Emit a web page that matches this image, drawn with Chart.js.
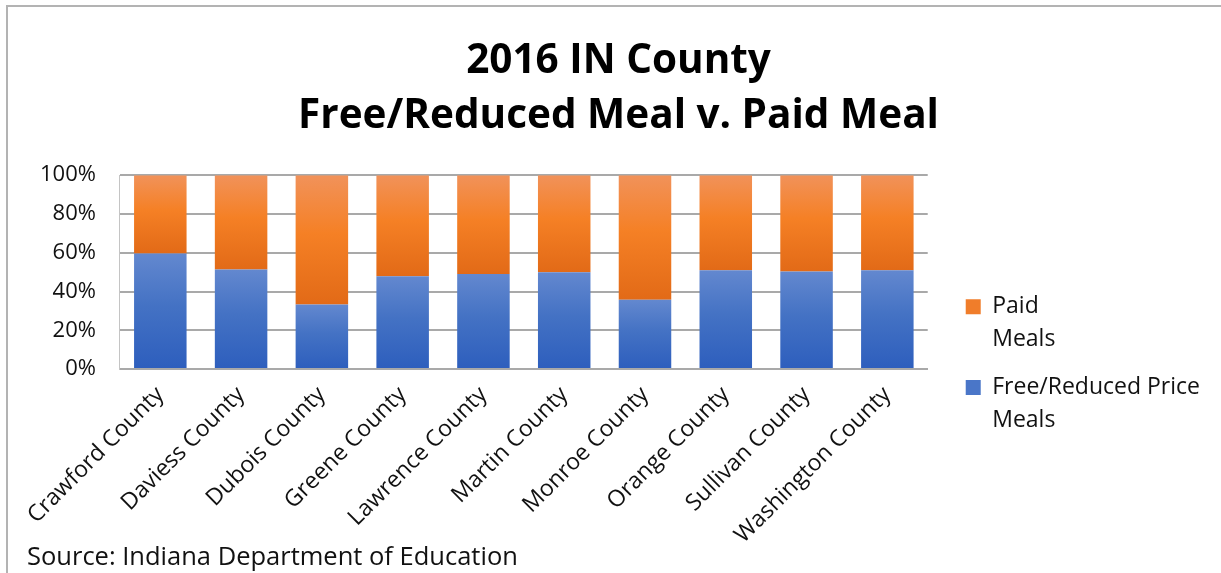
<!DOCTYPE html>
<html>
<head>
<meta charset="utf-8">
<script src="https://cdn.jsdelivr.net/npm/chart.js@4.4.0/dist/chart.umd.min.js"></script>
<style>
  html, body { margin: 0; padding: 0; background: #fff; }
  #wrap  { position: relative; width: 1221px; height: 573px; overflow: hidden; }
  #frame { position: absolute; left: 6px; top: 5px; right: -4px; bottom: -4px;
           border-top: 2px solid #b3b3b3; border-left: 2px solid #b3b3b3; pointer-events: none; }
  #source { position: absolute; left: 27px; top: 538px; font: 25.5px/1.35 'Open Sans', sans-serif; color: #111; }
  canvas { position: absolute; left: 0; top: 0; }
</style>
</head>
<body>
<div id="wrap">
  <canvas id="meals" width="1221" height="573"></canvas>
  <div id="frame"></div>
  <div id="source">Source: Indiana Department of Education</div>
</div>
<script>
// ── Data (percent of students) ──────────────────────────────
const counties = ['Crawford County', 'Daviess County', 'Dubois County', 'Greene County',
  'Lawrence County', 'Martin County', 'Monroe County', 'Orange County',
  'Sullivan County', 'Washington County'];
const freeReduced = [59.6, 51.4, 33.3, 47.9, 49.0, 50.0, 35.7, 51.0, 50.3, 51.0];
const paid        = [40.4, 48.6, 66.7, 52.1, 51.0, 50.0, 64.3, 49.0, 49.7, 49.0];
const yTicks      = [0, 20, 40, 60, 80, 100];

const FONT = "'Open Sans', sans-serif";
const INK  = '#111';
const GRID = '#a9a9a9';

// ── Per-segment vertical gradient (light top → dark bottom) ──
function segGradient(stops, lowOf, highOf) {
  return (ctx) => {
    const chart = ctx.chart;
    if (ctx.type !== 'data' || !chart.chartArea) return stops[1];
    const y   = chart.scales.y;
    const i   = ctx.dataIndex;
    const top = y.getPixelForValue(highOf(i));
    const bot = y.getPixelForValue(lowOf(i));
    const g = chart.ctx.createLinearGradient(0, top, 0, bot);
    g.addColorStop(0,    stops[0]);
    g.addColorStop(0.45, stops[1]);
    g.addColorStop(1,    stops[2]);
    return g;
  };
}

// nudge title / legend boxes (Excel places them a bit differently than Chart.js)
const boxShift = {
  id: 'boxShift',
  afterLayout(chart, args, opts) {
    const l = chart.legend, t = chart.titleBlock;
    if (l) {
      l.left += opts.legendDx; l.right  += opts.legendDx;
      l.top  += opts.legendDy; l.bottom += opts.legendDy;
    }
    if (t) { t.left += opts.titleDx; t.right += opts.titleDx; }
  },
};

const BLUE   = ['#6388cf', '#4472c4', '#2d5ebd'];
const ORANGE = ['#f1925a', '#f58025', '#e26a17'];

new Chart(document.getElementById('meals'), {
  type: 'bar',
  plugins: [boxShift],
  data: {
    labels: counties,
    datasets: [
      {
        label: ['Free/Reduced Price', 'Meals'],
        data: freeReduced,
        backgroundColor: segGradient(BLUE, () => 0, i => freeReduced[i]),
        legendColor: '#4a76c8',
      },
      {
        label: ['Paid', 'Meals'],
        data: paid,
        backgroundColor: segGradient(ORANGE, i => freeReduced[i], i => freeReduced[i] + paid[i]),
        legendColor: '#f07d2a',
      },
    ],
  },
  options: {
    responsive: false,
    animation: false,
    barPercentage: 0.65,
    categoryPercentage: 1,
    layout: { padding: { left: 16, right: 34, top: 0, bottom: 12 } },
    plugins: {
      boxShift: { legendDx: 23, legendDy: 88, titleDx: 17 },
      title: {
        display: true,
        text: ['2016 IN County', 'Free/Reduced Meal v. Paid Meal'],
        color: '#000',
        font: { family: FONT, size: 40.5, weight: '700', lineHeight: 1.36 },
        padding: { top: 34, bottom: 31 },
      },
      legend: {
        position: 'right',
        reverse: true,
        labels: {
          color: INK,
          font: { family: FONT, size: 23, lineHeight: 1.43 },
          boxWidth: 15,
          boxHeight: 15,
          padding: 15,
          generateLabels: (chart) => chart.data.datasets.map((ds, i) => ({
            text: ds.label,
            fillStyle: ds.legendColor,
            strokeStyle: ds.legendColor,
            lineWidth: 0,
            datasetIndex: i,
            fontColor: INK,
          })),
        },
      },
      tooltip: { enabled: false },
    },
    scales: {
      x: {
        stacked: true,
        grid: { display: false, drawTicks: false },
        border: { display: true, color: GRID, width: 2 },
        ticks: {
          color: INK, font: { family: FONT, size: 23 },
          minRotation: 45, maxRotation: 45, padding: 12,
        },
      },
      y: {
        stacked: true,
        min: 0, max: 100,
        afterBuildTicks: (axis) => { axis.ticks = yTicks.map(v => ({ value: v })); },
        grid: { color: GRID, lineWidth: 2, drawTicks: false },
        border: { display: true, color: '#c4c4c4', width: 1 },
        ticks: {
          color: INK, font: { family: FONT, size: 22 }, padding: 24,
          callback: v => v + '%',
        },
      },
    },
  },
});
</script>
</body>
</html>
